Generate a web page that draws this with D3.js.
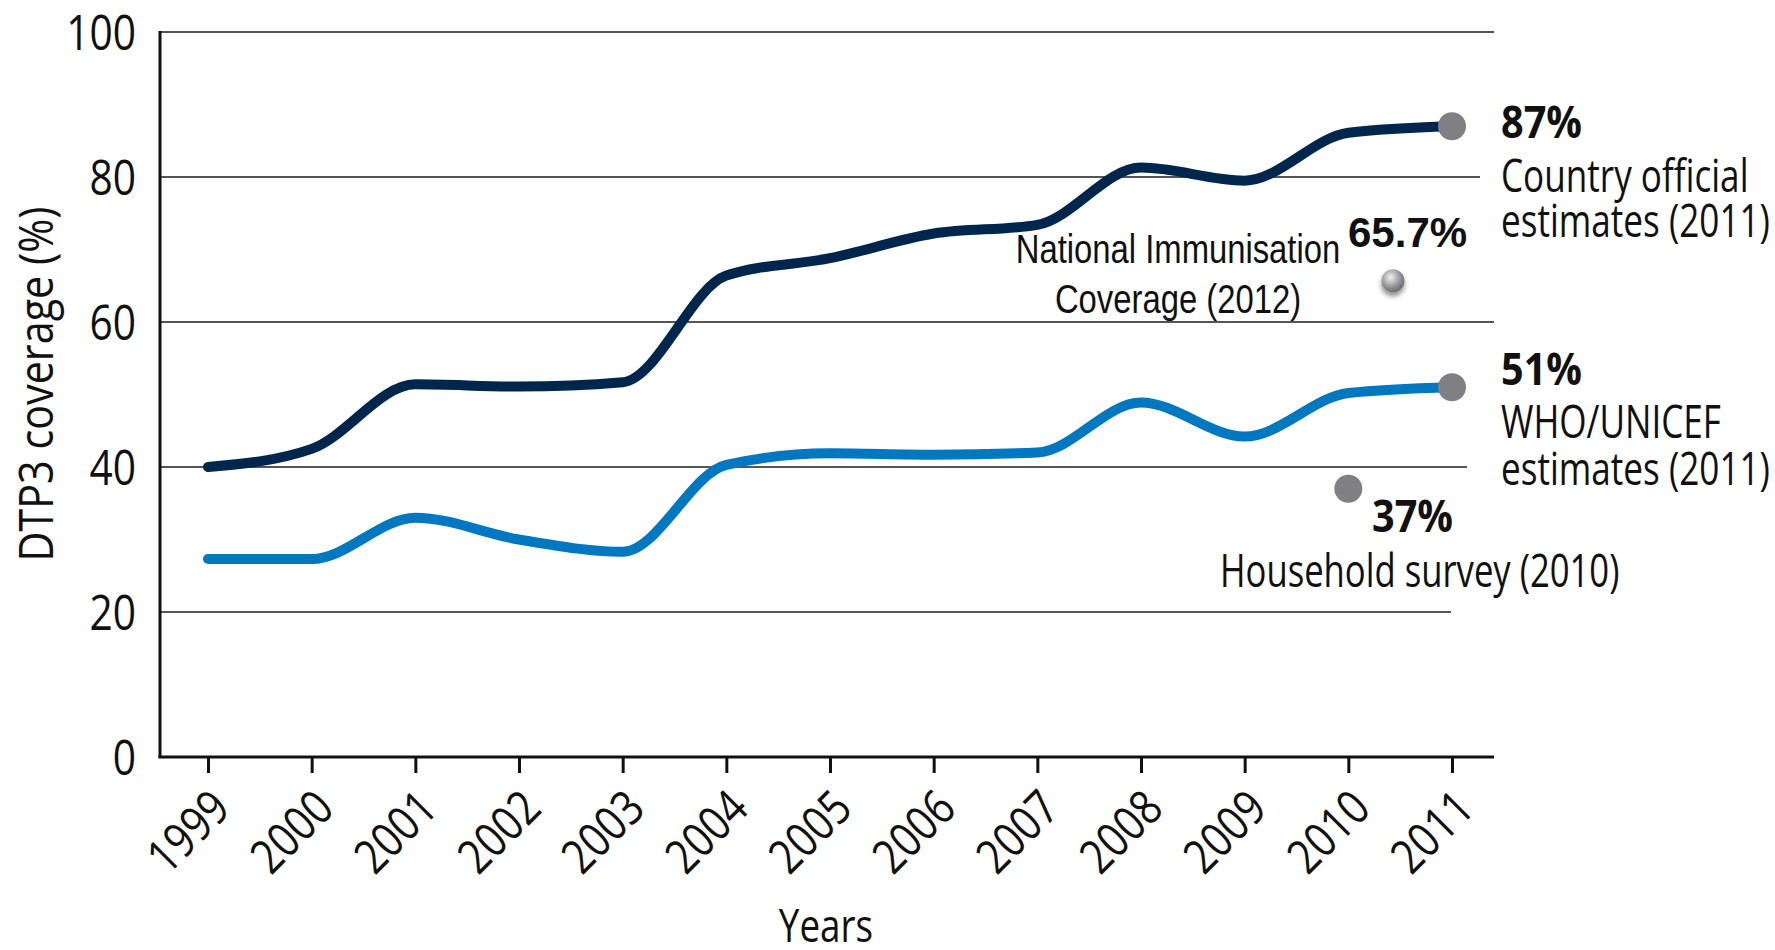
<!DOCTYPE html>
<html>
<head>
<meta charset="utf-8">
<script src="https://cdn.jsdelivr.net/npm/d3@7"></script>
<style>
  body { margin: 0; background: #ffffff; }
  svg { display: block; }
</style>
</head>
<body>
<svg id="chart" width="1775" height="950"></svg>
<script>
// ---- data -------------------------------------------------------------
const years = [1999, 2000, 2001, 2002, 2003, 2004, 2005, 2006, 2007, 2008, 2009, 2010, 2011];
const countryOfficial = [40, 42.5, 51.4, 51.1, 51.7, 66.4, 68.8, 72.2, 73.4, 81.3, 79.5, 86.1, 87];
const whoUnicef = [27.3, 27.3, 33, 30, 28.3, 40.3, 41.9, 41.7, 42, 48.9, 44.2, 50.2, 51];
const yTicks = [0, 20, 40, 60, 80, 100];

// single-value estimates shown as dots
const householdSurvey = { year: 2010, value: 37 };
const nationalCoverage = { year: 2010.43, value: 65.7 };

// ---- layout -----------------------------------------------------------
const svg = d3.select("#chart");
const axisLeft = 160, axisRight = 1494;
const x = d3.scaleLinear().domain([1999, 2011]).range([208, 1452]);
const y = d3.scaleLinear().domain([0, 100]).range([757, 32]);

const mainFont = "'Open Sans', 'Noto Sans', sans-serif";
const arialFont = "'Liberation Sans', Arial, sans-serif";

// squeeze text horizontally to imitate a condensed typeface
function condense(sel, k) {
  sel.each(function () {
    const w = this.getComputedTextLength();
    this.setAttribute("textLength", (w * k).toFixed(1));
    this.setAttribute("lengthAdjust", "spacingAndGlyphs");
  });
}

const defs = svg.append("defs");
const grad = defs.append("radialGradient")
  .attr("id", "ball").attr("cx", "40%").attr("cy", "35%").attr("r", "65%");
grad.append("stop").attr("offset", "0%").attr("stop-color", "#f2f2f2");
grad.append("stop").attr("offset", "55%").attr("stop-color", "#a3a3a5");
grad.append("stop").attr("offset", "100%").attr("stop-color", "#6b6b6e");
const shadow = defs.append("filter").attr("id", "shadow")
  .attr("x", "-50%").attr("y", "-50%").attr("width", "200%").attr("height", "220%");
shadow.append("feDropShadow").attr("dx", 0).attr("dy", 4).attr("stdDeviation", 2.5)
  .attr("flood-color", "#000").attr("flood-opacity", 0.45);

// ---- gridlines (each stops short of the side labels) -------------------
const gridEnd = { 100: 1494, 80: 1480, 60: 1494, 40: 1467, 20: 1451 };
svg.append("g").selectAll("line")
  .data(yTicks.filter(d => d > 0))
  .join("line")
  .attr("x1", axisLeft).attr("x2", d => gridEnd[d])
  .attr("y1", d => y(d)).attr("y2", d => y(d))
  .attr("stroke", "#555").attr("stroke-width", 2);

// ---- y axis ------------------------------------------------------------
const yAxis = svg.append("g")
  .attr("transform", `translate(${axisLeft},0)`)
  .call(d3.axisLeft(y).tickValues(yTicks).tickSize(0).tickPadding(24));
yAxis.select(".domain").remove();
yAxis.append("line")
  .attr("x1", 0).attr("x2", 0).attr("y1", y(100) - 1).attr("y2", y(0) + 1)
  .attr("stroke", "#111").attr("stroke-width", 3);
yAxis.selectAll(".tick text")
  .attr("font-family", mainFont).attr("font-size", 49).attr("fill", "#111")
  .attr("dy", "0.36em")
  .call(condense, 0.83);

// ---- x axis ------------------------------------------------------------
const xAxis = svg.append("g")
  .attr("transform", `translate(0,${y(0)})`)
  .call(d3.axisBottom(x).tickValues(years).tickFormat(d3.format("d"))
    .tickSize(16).tickPadding(0));
xAxis.select(".domain").remove();
xAxis.append("line")
  .attr("x1", axisLeft - 1.5).attr("x2", axisRight).attr("y1", 0).attr("y2", 0)
  .attr("stroke", "#111").attr("stroke-width", 3);
xAxis.selectAll(".tick line").attr("stroke", "#111").attr("stroke-width", 3);
xAxis.selectAll(".tick text")
  .attr("font-family", mainFont).attr("font-size", 48).attr("fill", "#111")
  .attr("text-anchor", "end")
  .attr("y", 0).attr("dy", 0)
  .attr("transform", "translate(24,54) rotate(-45)")
  .call(condense, 0.84);

// ---- axis titles -------------------------------------------------------
svg.append("text")
  .attr("transform", `translate(53,384) rotate(-90)`)
  .attr("text-anchor", "middle")
  .attr("font-family", mainFont).attr("font-size", 48).attr("fill", "#111")
  .text("DTP3 coverage (%)")
  .call(condense, 0.86);

svg.append("text")
  .attr("x", 826).attr("y", 942)
  .attr("text-anchor", "middle")
  .attr("font-family", mainFont).attr("font-size", 46).attr("fill", "#111")
  .text("Years")
  .call(condense, 0.8);

// ---- series lines ------------------------------------------------------
const line = d3.line()
  .x((d, i) => x(years[i]))
  .y(d => y(d))
  .curve(d3.curveMonotoneX);

svg.append("path")
  .datum(whoUnicef)
  .attr("d", line)
  .attr("fill", "none").attr("stroke", "#0077c1")
  .attr("stroke-width", 10).attr("stroke-linecap", "round").attr("stroke-linejoin", "round");

svg.append("path")
  .datum(countryOfficial)
  .attr("d", line)
  .attr("fill", "none").attr("stroke", "#00264d")
  .attr("stroke-width", 10).attr("stroke-linecap", "round").attr("stroke-linejoin", "round");

// ---- end-point and survey dots ------------------------------------------
const last = years.length - 1;
const flatDots = [
  { year: years[last], value: countryOfficial[last] },
  { year: years[last], value: whoUnicef[last] },
  householdSurvey
];
svg.append("g").selectAll("circle")
  .data(flatDots)
  .join("circle")
  .attr("cx", d => x(d.year)).attr("cy", d => y(d.value))
  .attr("r", 14).attr("fill", "#808084");

svg.append("circle")
  .attr("cx", x(nationalCoverage.year)).attr("cy", y(nationalCoverage.value))
  .attr("r", 11.5).attr("fill", "url(#ball)").attr("filter", "url(#shadow)");

// ---- annotations -------------------------------------------------------
const pct = d3.format(".0f");

function label(xp, yp, txt, opts) {
  const t = svg.append("text")
    .attr("x", xp).attr("y", yp)
    .attr("text-anchor", opts.anchor || "start")
    .attr("font-family", opts.family || mainFont)
    .attr("font-size", opts.size)
    .attr("font-weight", opts.weight || "normal")
    .attr("fill", "#111")
    .text(txt);
  if (opts.k) t.call(condense, opts.k);
  return t;
}

// country official estimates
label(1501, 138, pct(countryOfficial[last]) + "%", { size: 44, weight: "bold", k: 0.9 });
label(1501, 192, "Country official", { size: 45, k: 0.78 });
label(1501, 237, "estimates (2011)", { size: 45, k: 0.78 });

// WHO/UNICEF estimates
label(1501, 385, pct(whoUnicef[last]) + "%", { size: 44, weight: "bold", k: 0.9 });
label(1501, 438, "WHO/UNICEF", { size: 45, k: 0.78 });
label(1501, 485, "estimates (2011)", { size: 45, k: 0.78 });

// household survey
label(1372, 532, pct(householdSurvey.value) + "%", { size: 44, weight: "bold", k: 0.9 });
label(1220, 587, "Household survey (2010)", { size: 45, k: 0.77 });

// national immunisation coverage
label(1178, 263, "National Immunisation", { size: 40, family: arialFont, k: 0.82, anchor: "middle" });
label(1178, 313, "Coverage (2012)", { size: 40, family: arialFont, k: 0.82, anchor: "middle" });
label(1348, 247, nationalCoverage.value + "%", { size: 42, family: arialFont, weight: "bold" });
</script>
</body>
</html>
